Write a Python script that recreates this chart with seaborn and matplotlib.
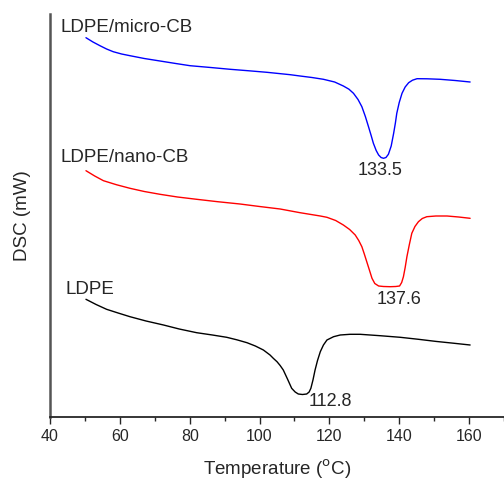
import numpy as np
import pandas as pd
import matplotlib
matplotlib.use("Agg")
import matplotlib.pyplot as plt
import seaborn as sns
from matplotlib.ticker import MultipleLocator

# DSC traces (arbitrary heat-flow units, stacked offsets)
micro_temp = [50.3, 52.3, 54.3, 56.2, 58.1, 60.5, 62.9, 67, 71.5, 76, 80.1, 86, 91.6, 97,
              102.1, 108.8, 111.6, 115, 118.3, 121.5, 124, 125.6, 126.9, 128.2, 129.3,
              130.3, 131.2, 132, 132.6, 133.4, 134.1, 134.8, 135.5, 136.2, 136.9, 137.7,
              138.4, 138.9, 139.3, 140, 140.8, 141.7, 142.7, 143.8, 145.1, 148, 151.7,
              156, 160.3]
micro_dsc = [379.3, 375, 371.3, 368, 365.3, 363, 361.3, 358.5, 356, 353.5, 351.3, 349.5,
             347.7, 346.2, 344.7, 342.3, 341, 339.5, 337.7, 335, 331, 327.8, 323.7, 317.5,
             310.3, 300.5, 290.3, 281, 273.7, 266.5, 262, 259.5, 258.7, 259.5, 262.7, 271,
             283.7, 294, 303.7, 314.5, 323.7, 330, 334.3, 336.8, 338.3, 338.2, 337.7,
             336.5, 335]

nano_temp = [50.3, 52.8, 55.3, 59, 62.9, 67, 71.5, 76.5, 82, 88, 94.4, 100, 105.9, 111.6,
             117.4, 119.3, 121.8, 124, 125.8, 127.4, 128.4, 129.3, 130, 130.7, 131.5,
             132.2, 133, 134.1, 135.5, 137.4, 139, 140.1, 140.7, 141.2, 141.7, 142.2,
             142.9, 143.6, 144.5, 145.5, 146.6, 147.9, 150.5, 153.7, 157, 160.3]
nano_dsc = [246.3, 241, 236.3, 232.3, 228.7, 225.5, 222.7, 220, 217.7, 215.3, 213, 210.5,
            208, 204.3, 201, 199.7, 196.5, 192, 187.5, 182, 176.5, 170.3, 163, 155.3,
            146.5, 138.7, 133.5, 131, 130.5, 130.3, 130.5, 131, 134.5, 140.3, 149.5,
            160.3, 172.5, 183.7, 190.5, 195.3, 198.5, 200.3, 201, 201, 200, 198.7]

ldpe_temp = [50.3, 53.2, 56.2, 59.5, 62.9, 67.5, 72.5, 77, 82, 86.5, 90.6, 93.5, 96.4,
             98.8, 101.1, 103, 104, 105, 105.9, 106.8, 108, 109.2, 110.2, 111.1, 112.3,
             113.5, 114.2, 114.7, 115.3, 115.9, 116.6, 117.4, 118.3, 119.3, 121.2, 123.1,
             125.9, 128.8, 134.5, 140.3, 145.5, 150.5, 155.5, 160.3]
ldpe_dsc = [117.7, 112.5, 107.7, 104, 100.3, 96, 92, 88, 84.3, 82, 79.7, 77.2, 74.3, 71,
            67, 62, 58.5, 55.3, 51.5, 47, 38, 28.7, 25, 23, 22.5,
            23, 25, 28.7, 37, 47, 56.5, 65.3, 72, 77, 80.3, 82,
            82.7, 82.7, 81.3, 79.7, 77.7, 75.6, 73.8, 72]

curve_names = ["LDPE/micro-CB", "LDPE/nano-CB", "LDPE"]
curve_colors = ["#0000ff", "#ff0000", "#000000"]
peak_labels = ["133.5", "137.6", "112.8"]

df = pd.concat([
    pd.DataFrame({"Temperature": micro_temp, "DSC": micro_dsc, "Sample": curve_names[0]}),
    pd.DataFrame({"Temperature": nano_temp, "DSC": nano_dsc, "Sample": curve_names[1]}),
    pd.DataFrame({"Temperature": ldpe_temp, "DSC": ldpe_dsc, "Sample": curve_names[2]}),
])

sns.set_style("ticks")
plt.rcParams["font.family"] = ["Liberation Sans", "DejaVu Sans"]

fig = plt.figure(figsize=(5.04, 4.83), dpi=100)
ax = fig.add_axes([50 / 504, 66 / 483, 454 / 504, 403 / 483])

sns.lineplot(data=df, x="Temperature", y="DSC", hue="Sample",
             palette=dict(zip(curve_names, curve_colors)), linewidth=1.0,
             sort=False, legend=False, ax=ax)

# curve names and peak temperatures
ax.text(43, 389, curve_names[0], fontsize=13.5, va="center")
ax.text(43, 259, curve_names[1], fontsize=13.5, va="center")
ax.text(44.5, 127, curve_names[2], fontsize=13.5, va="center")
ax.text(134.6, 246.5, peak_labels[0], fontsize=13, ha="center", va="center")
ax.text(140.0, 118, peak_labels[1], fontsize=13, ha="center", va="center")
ax.text(120.4, 15.5, peak_labels[2], fontsize=13, ha="center", va="center")

ax.set_xlim(40, 170)
ax.set_ylim(0, 403)
ax.xaxis.set_major_locator(MultipleLocator(20))
ax.xaxis.set_minor_locator(MultipleLocator(10))
ax.tick_params(axis="x", which="major", length=5, width=1, labelsize=11.5, direction="out")
ax.tick_params(axis="x", which="minor", length=3, width=1, direction="out")
ax.set_yticks([])
ax.set_xlabel("Temperature ($^{\\rm o}$C)", fontsize=13.5, labelpad=10)
ax.set_ylabel("DSC (mW)", fontsize=13.5, labelpad=14)

sns.despine(ax=ax)
ax.spines["left"].set_color("#555555")
ax.spines["left"].set_linewidth(1.8)
ax.spines["bottom"].set_linewidth(1.3)

fig.savefig("out.png", dpi=100)
